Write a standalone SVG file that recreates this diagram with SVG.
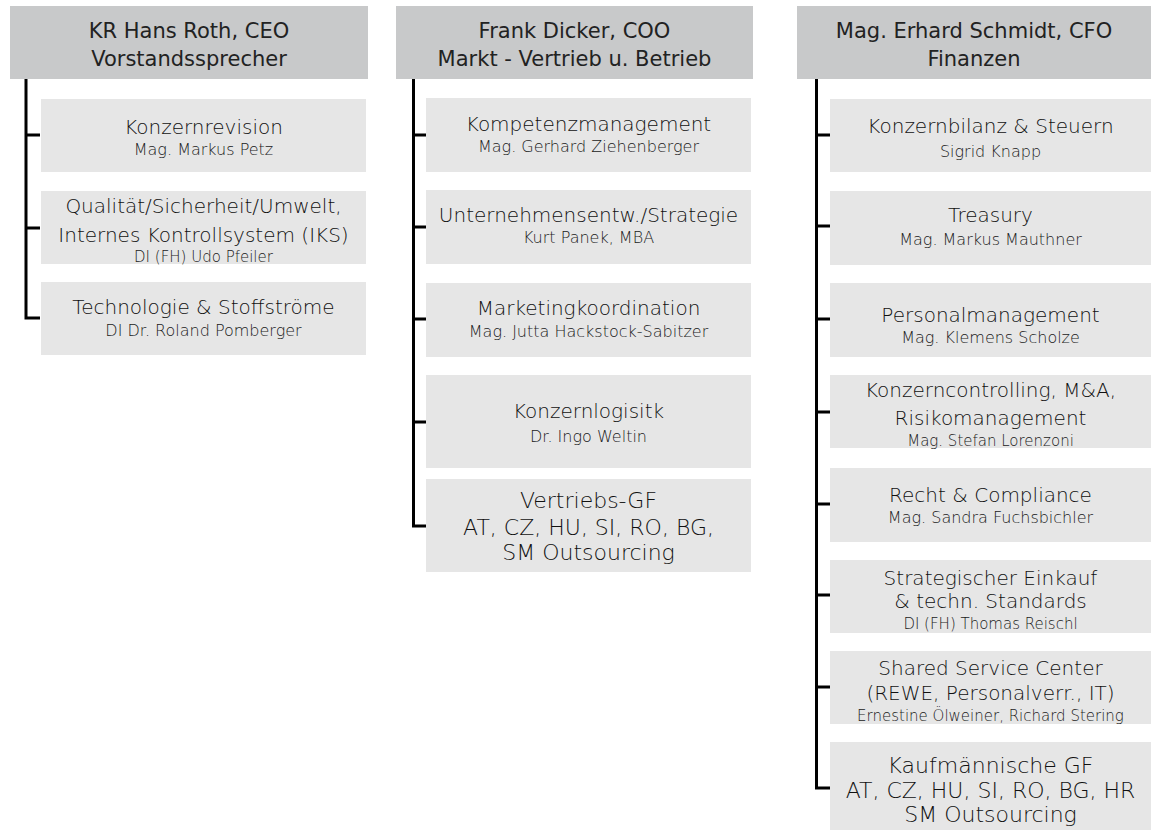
<svg xmlns="http://www.w3.org/2000/svg" width="1151" height="830" viewBox="0 0 1151 830">
<style>
.hd{fill:#c8c9ca}
.bx{fill:#e6e6e6}
text{font-family:"DejaVu Sans","Liberation Sans",sans-serif;text-anchor:middle}
.h{font-size:21px;fill:#222}
.m{font-size:20px;font-weight:300;fill:#111}
.L{font-size:22px;font-weight:300;fill:#111}
.s{font-size:16px;font-weight:300;fill:#1a1a1a}
.s2{font-size:15px;font-weight:300;fill:#1a1a1a}
.ln{fill:none;stroke:#000;stroke-width:3}
</style>
<g id="connectors">
<path class="ln" d="M26,79V318H40M26,135H40M26,228H40"/>
<path class="ln" d="M413.5,79V526H426M413.5,135H426M413.5,227H426M413.5,319H426M413.5,422H426"/>
<path class="ln" d="M816.5,79V788H830M816.5,135H830M816.5,226H830M816.5,319H830M816.5,412H830M816.5,504H830M816.5,595H830M816.5,687H830"/>
</g>
<g id="ceo">
<rect class="hd" x="10" y="6" width="358" height="73"/>
<text class="h" x="189" y="38">KR Hans Roth, CEO</text>
<text class="h" x="189" y="66">Vorstandssprecher</text>
</g>
<g id="coo">
<rect class="hd" x="396" y="6" width="357" height="73"/>
<text class="h" x="574.5" y="38">Frank Dicker, COO</text>
<text class="h" x="574.5" y="66">Markt - Vertrieb u. Betrieb</text>
</g>
<g id="cfo">
<rect class="hd" x="797" y="6" width="354" height="73"/>
<text class="h" x="974" y="38">Mag. Erhard Schmidt, CFO</text>
<text class="h" x="974" y="66">Finanzen</text>
</g>
<g id="c1n1">
<rect class="bx" x="41" y="99" width="325" height="73"/>
<text class="m" x="203.5" y="134">Konzernrevision</text>
<text class="s" x="203.5" y="155">Mag. Markus Petz</text>
</g>
<g id="c1n2">
<rect class="bx" x="41" y="191" width="325" height="73"/>
<text class="m" x="203.5" y="213">Qualität/Sicherheit/Umwelt,</text>
<text class="m" x="203.5" y="242">Internes Kontrollsystem (IKS)</text>
<text class="s2" x="203.5" y="262">DI (FH) Udo Pfeiler</text>
</g>
<g id="c1n3">
<rect class="bx" x="41" y="282" width="325" height="73"/>
<text class="m" x="203.5" y="314">Technologie &amp; Stoffströme</text>
<text class="s" x="203.5" y="336">DI Dr. Roland Pomberger</text>
</g>
<g id="c2n1">
<rect class="bx" x="426" y="98" width="325" height="74"/>
<text class="m" x="588.5" y="131">Kompetenzmanagement</text>
<text class="s" x="588.5" y="152">Mag. Gerhard Ziehenberger</text>
</g>
<g id="c2n2">
<rect class="bx" x="426" y="190" width="325" height="74"/>
<text class="m" x="588.5" y="222">Unternehmensentw./Strategie</text>
<text class="s" x="588.5" y="243">Kurt Panek, MBA</text>
</g>
<g id="c2n3">
<rect class="bx" x="426" y="283" width="325" height="74"/>
<text class="m" x="588.5" y="315">Marketingkoordination</text>
<text class="s" x="588.5" y="337">Mag. Jutta Hackstock-Sabitzer</text>
</g>
<g id="c2n4">
<rect class="bx" x="426" y="375" width="325" height="93"/>
<text class="m" x="588.5" y="418">Konzernlogisitk</text>
<text class="s" x="588.5" y="442">Dr. Ingo Weltin</text>
</g>
<g id="c2n5">
<rect class="bx" x="426" y="479" width="325" height="93"/>
<text class="L" x="588.5" y="508">Vertriebs-GF</text>
<text class="L" x="588.5" y="535">AT, CZ, HU, SI, RO, BG,</text>
<text class="L" x="588.5" y="560">SM Outsourcing</text>
</g>
<g id="c3n1">
<rect class="bx" x="830" y="99" width="321" height="73"/>
<text class="m" x="990.5" y="133">Konzernbilanz &amp; Steuern</text>
<text class="s" x="990.5" y="157">Sigrid Knapp</text>
</g>
<g id="c3n2">
<rect class="bx" x="830" y="191" width="321" height="74"/>
<text class="m" x="990.5" y="222">Treasury</text>
<text class="s" x="990.5" y="245">Mag. Markus Mauthner</text>
</g>
<g id="c3n3">
<rect class="bx" x="830" y="283" width="321" height="74"/>
<text class="m" x="990.5" y="322">Personalmanagement</text>
<text class="s" x="990.5" y="343">Mag. Klemens Scholze</text>
</g>
<g id="c3n4">
<rect class="bx" x="830" y="375" width="321" height="73"/>
<text class="m" x="990.5" y="397">Konzerncontrolling, M&amp;A,</text>
<text class="m" x="990.5" y="425">Risikomanagement</text>
<text class="s2" x="990.5" y="446">Mag. Stefan Lorenzoni</text>
</g>
<g id="c3n5">
<rect class="bx" x="830" y="468" width="321" height="74"/>
<text class="m" x="990.5" y="502">Recht &amp; Compliance</text>
<text class="s" x="990.5" y="523">Mag. Sandra Fuchsbichler</text>
</g>
<g id="c3n6">
<rect class="bx" x="830" y="560" width="321" height="73"/>
<text class="m" x="990.5" y="585">Strategischer Einkauf</text>
<text class="m" x="990.5" y="608">&amp; techn. Standards</text>
<text class="s2" x="990.5" y="629">DI (FH) Thomas Reischl</text>
</g>
<g id="c3n7">
<rect class="bx" x="830" y="651" width="321" height="73"/>
<text class="m" x="990.5" y="675">Shared Service Center</text>
<text class="m" x="990.5" y="700">(REWE, Personalverr., IT)</text>
<text class="s2" x="990.5" y="721">Ernestine Ölweiner, Richard Stering</text>
</g>
<g id="c3n8">
<rect class="bx" x="830" y="742" width="321" height="88"/>
<text class="L" x="990.5" y="773">Kaufmännische GF</text>
<text class="L" x="990.5" y="798">AT, CZ, HU, SI, RO, BG, HR</text>
<text class="L" x="990.5" y="822">SM Outsourcing</text>
</g>
</svg>
